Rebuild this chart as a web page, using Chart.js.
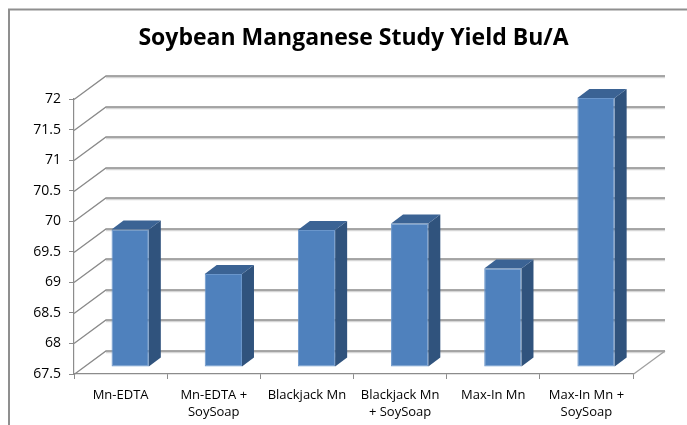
<!DOCTYPE html>
<html>
<head>
<meta charset="utf-8">
<script src="https://cdn.jsdelivr.net/npm/chart.js@4/dist/chart.umd.min.js"></script>
<style>
  html, body { margin: 0; padding: 0; background: #ffffff; }
  canvas { display: block; }
</style>
</head>
<body>
<canvas id="c" width="687" height="425"></canvas>
<script>
// ---- data ----
const chartTitle = "Soybean Manganese Study Yield Bu/A";
const categories = [
  ["Mn-EDTA"],
  ["Mn-EDTA +", "SoySoap"],
  ["Blackjack Mn"],
  ["Blackjack Mn", "+ SoySoap"],
  ["Max-In Mn"],
  ["Max-In Mn +", "SoySoap"]
];
const yieldValues = [69.75, 69.02, 69.74, 69.85, 69.11, 71.9];
const yMin = 67.5;
const yMax = 72;
const yStep = 0.5;

// ---- 3D geometry / style ----
const WALL_DX = 32, WALL_DY = 23.5;   // back wall offset
const BAR_DX = 9.6, BAR_DY = 7;       // bar front face depth offset
const SIDE_DX = 12, SIDE_DY = 9;      // bar depth
const FRONT = '#4F81BD', SIDE = '#30537d', TOP = '#3b6394';
const GRID = '#8a8a8a';

const frame = {
  id: 'frame',
  beforeDraw(chart) {
    const ctx = chart.ctx;
    ctx.save();
    ctx.strokeStyle = '#8f8f8f';
    ctx.lineWidth = 2;
    ctx.beginPath();
    ctx.moveTo(9, 425);
    ctx.lineTo(9, 9.5);
    ctx.lineTo(687, 9.5);
    ctx.stroke();
    ctx.restore();
  }
};

const threeD = {
  id: 'threeD',
  beforeDatasetsDraw(chart) {
    const ctx = chart.ctx, a = chart.chartArea, y = chart.scales.y;
    ctx.save();
    ctx.lineWidth = 1.3;
    y.ticks.forEach(t => {
      const py = Math.round(y.getPixelForValue(t.value)) + 0.5;
      ctx.strokeStyle = '#d6d6d6';
      ctx.beginPath();
      ctx.moveTo(a.left + WALL_DX, py - WALL_DY + 1.5);
      ctx.lineTo(a.right + WALL_DX, py - WALL_DY + 1.5);
      ctx.stroke();
      ctx.strokeStyle = GRID;
      ctx.beginPath();
      ctx.moveTo(a.left, py);
      ctx.lineTo(a.left + WALL_DX, py - WALL_DY);
      ctx.lineTo(a.right + WALL_DX, py - WALL_DY);
      ctx.stroke();
    });
    ctx.strokeStyle = '#a0a0a0';
    ctx.beginPath();
    ctx.moveTo(a.right, a.bottom + 0.5);
    ctx.lineTo(a.right + WALL_DX, a.bottom + 0.5 - WALL_DY);
    ctx.stroke();
    ctx.restore();
    ctx.save();
    ctx.translate(BAR_DX, -BAR_DY);
  },
  afterDatasetsDraw(chart) {
    const ctx = chart.ctx;
    const meta = chart.getDatasetMeta(0);
    meta.data.forEach(el => {
      const p = el.getProps(['x', 'y', 'base', 'width'], true);
      const l = p.x - p.width / 2, r = p.x + p.width / 2;
      ctx.fillStyle = SIDE;
      ctx.beginPath();
      ctx.moveTo(r, p.y);
      ctx.lineTo(r + SIDE_DX, p.y - SIDE_DY);
      ctx.lineTo(r + SIDE_DX, p.base - SIDE_DY);
      ctx.lineTo(r, p.base);
      ctx.closePath();
      ctx.fill();
      ctx.fillStyle = TOP;
      ctx.beginPath();
      ctx.moveTo(l, p.y);
      ctx.lineTo(l + SIDE_DX, p.y - SIDE_DY);
      ctx.lineTo(r + SIDE_DX, p.y - SIDE_DY);
      ctx.lineTo(r, p.y);
      ctx.closePath();
      ctx.fill();
    });
    ctx.restore();
  }
};

new Chart(document.getElementById('c'), {
  type: 'bar',
  data: {
    labels: categories,
    datasets: [{
      data: yieldValues,
      base: yMin,
      backgroundColor: FRONT,
      borderColor: '#6a96cb',
      borderWidth: 1,
      borderSkipped: false,
      barPercentage: 0.5,
      categoryPercentage: 0.8,
      clip: false
    }]
  },
  options: {
    responsive: false,
    animation: false,
    layout: { padding: { left: 20, right: 0, top: 0, bottom: 0 } },
    plugins: {
      legend: { display: false },
      tooltip: { enabled: false },
      title: {
        display: true,
        text: chartTitle,
        color: '#000000',
        font: { family: 'Open Sans', size: 23, weight: 'bold', lineHeight: 1.2 },
        padding: { top: 24.2, bottom: 47.2 }
      }
    },
    scales: {
      x: {
        grid: { display: true, drawOnChartArea: false, drawTicks: true, tickLength: 5, color: '#8c8c8c', offset: true },
        border: { display: true, color: '#8c8c8c', width: 1.2 },
        ticks: { color: '#000000', padding: 8, font: { family: 'Open Sans', size: 13, lineHeight: 1.3 }, maxRotation: 0, autoSkip: false },
        afterFit(s) { s.height = 51; }
      },
      y: {
        min: yMin,
        max: yMax,
        grid: { display: true, drawOnChartArea: false, drawTicks: true, tickLength: 5, color: '#8c8c8c' },
        border: { display: true, color: '#8c8c8c', width: 1.2 },
        ticks: { stepSize: yStep, color: '#000000', padding: 8, font: { family: 'Open Sans', size: 14 },
                 callback: v => String(v) },
        afterFit(s) { s.width = 54; }
      },
      yR: {
        position: 'right',
        display: true,
        grid: { display: false },
        border: { display: false },
        ticks: { display: false },
        afterFit(s) { s.width = 54; }
      }
    }
  },
  plugins: [frame, threeD]
});
</script>
</body>
</html>
